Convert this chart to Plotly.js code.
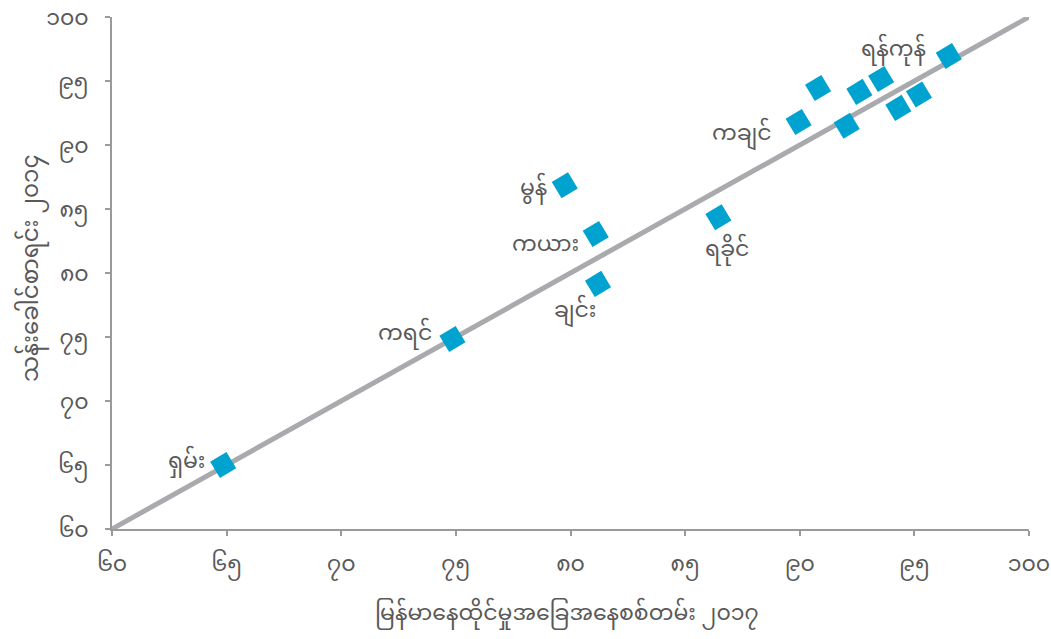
<!DOCTYPE html>
<html>
<head>
<meta charset="utf-8">
<script src="https://cdn.plot.ly/plotly-3.0.1.min.js"></script>
<style>html,body{margin:0;padding:0;background:#fff;}#chart{width:1051px;height:639px;}</style>
</head>
<body>
<div id="chart"></div>
<script>
// Data
const regionLabels = ["ရှမ်း","ကရင်","ချင်း","ကယား","မွန်","ရခိုင်","ကချင်","","","","","","","ရန်ကုန်"];
const mlcs2017 = [64.85, 74.85, 81.2, 81.1, 79.75, 86.45, 89.95, 90.8, 92.05, 92.6, 93.55, 94.3, 95.2, 96.5];
const census2014 = [65.0, 74.85, 79.15, 83.05, 86.85, 84.35, 91.8, 94.45, 91.5, 94.15, 95.15, 92.9, 93.95, 96.95];
const refLineX = [60, 100];
const refLineY = [60, 100];
const tickVals = [60, 65, 70, 75, 80, 85, 90, 95, 100];
const tickText = ["၆၀","၆၅","၇၀","၇၅","၈၀","၈၅","၉၀","၉၅","၁၀၀"];
const xTitle = "မြန်မာနေထိုင်မှုအခြေအနေစစ်တမ်း ၂၀၁၇";
const yTitle = "သန်းခေါင်စာရင်း ၂၀၁၄";

// Label placement (styling, not data)
const labelPlacement = {
  "ရှမ်း":   {xanchor:"right", xshift:-16, yshift:2},
  "ကရင်":   {xanchor:"right", xshift:-18, yshift:4},
  "ချင်း":   {xanchor:"center", xshift:-23, yshift:-28},
  "ကယား":  {xanchor:"right", xshift:-15, yshift:-12},
  "မွန်":    {xanchor:"right", xshift:-16, yshift:-5},
  "ရခိုင်":  {xanchor:"center", xshift:9, yshift:-34},
  "ကချင်":  {xanchor:"right", xshift:-25, yshift:-13},
  "ရန်ကုန်": {xanchor:"right", xshift:-21, yshift:5}
};

const FONT = '"Noto Sans Myanmar", Padauk, "Myanmar Text", "Noto Sans", sans-serif';
const TXT = '#595959';

const traces = [
  {x: refLineX, y: refLineY, mode: 'lines', type: 'scatter',
   line: {color: '#a9aaad', width: 5}, hoverinfo: 'skip', showlegend: false},
  {x: mlcs2017, y: census2014, mode: 'markers', type: 'scatter',
   marker: {symbol: 'square', size: 19, angle: -31, color: '#00a3d0', line: {width: 0}},
   showlegend: false}
];

const annotations = [];
regionLabels.forEach((lab, i) => {
  if (!lab) return;
  const p = labelPlacement[lab] || {xanchor:'right', xshift:-16, yshift:0};
  annotations.push({x: mlcs2017[i], y: census2014[i], xref: 'x', yref: 'y', text: lab,
    showarrow: false, xanchor: p.xanchor, yanchor: 'middle', xshift: p.xshift, yshift: p.yshift,
    font: {family: FONT, size: 22, color: TXT}});
});
// Axis titles as paper-anchored annotations for precise placement
annotations.push({xref: 'paper', yref: 'paper', x: 0.496, y: -0.168, text: xTitle, showarrow: false,
  xanchor: 'center', yanchor: 'middle', font: {family: FONT, size: 22, color: TXT}});
annotations.push({xref: 'paper', yref: 'paper', x: -0.086, y: 0.51, text: yTitle, showarrow: false,
  textangle: -90, xanchor: 'center', yanchor: 'middle', font: {family: FONT, size: 23, color: TXT}});

const axisCommon = {
  range: [60, 100], tickvals: tickVals, ticktext: tickText,
  showgrid: false, zeroline: false, showline: true, linecolor: '#9a9a9a', linewidth: 2,
  ticks: 'outside', ticklen: 5, tickwidth: 2, tickcolor: '#9a9a9a',
  ticklabeloverflow: 'allow', ticklabelstandoff: 9,
  tickfont: {family: FONT, size: 22, color: TXT}
};

const layout = {
  width: 1051, height: 639,
  margin: {l: 112, r: 22, t: 17, b: 110},
  paper_bgcolor: '#ffffff', plot_bgcolor: '#ffffff',
  xaxis: Object.assign({}, axisCommon),
  yaxis: Object.assign({}, axisCommon, {ticklabelstandoff: 12}),
  annotations: annotations
};

Plotly.newPlot('chart', traces, layout, {displayModeBar: false, staticPlot: true});
</script>
</body>
</html>
